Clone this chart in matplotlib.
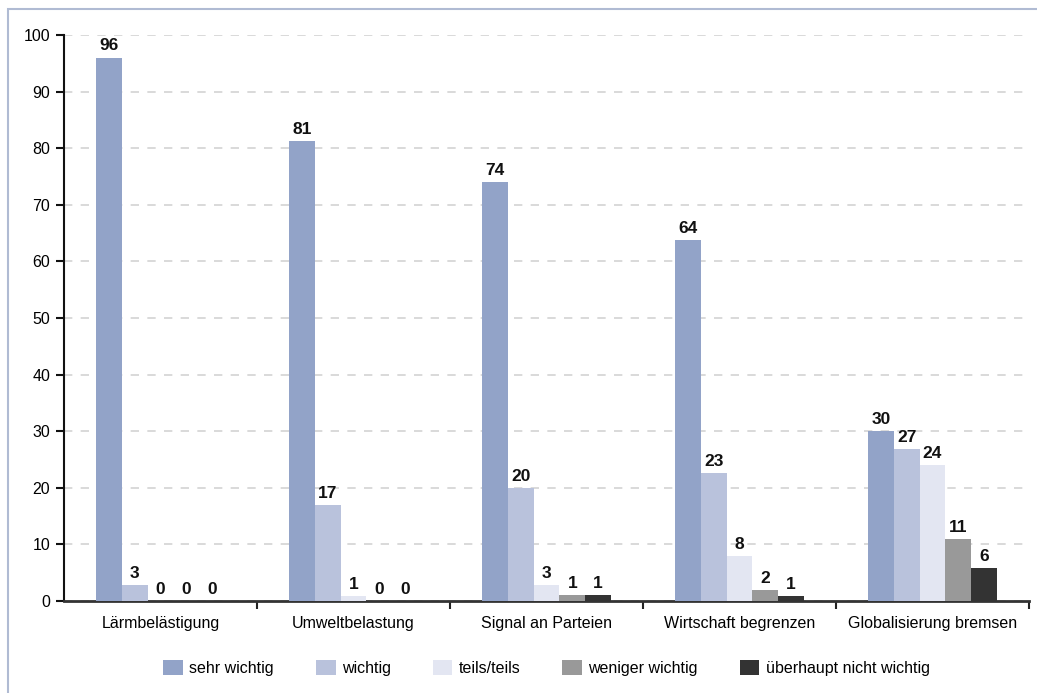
import matplotlib
matplotlib.use("Agg")
import matplotlib.pyplot as plt
import numpy as np
from matplotlib.patches import Rectangle

categories = ["Lärmbelästigung", "Umweltbelastung", "Signal an Parteien",
              "Wirtschaft begrenzen", "Globalisierung bremsen"]
series_names = ["sehr wichtig", "wichtig", "teils/teils", "weniger wichtig",
                "überhaupt nicht wichtig"]
sehr_wichtig = [96.0, 81.3, 74.0, 63.8, 30.0]
wichtig = [2.8, 17.0, 20.0, 22.6, 26.9]
teils_teils = [0.0, 0.9, 2.8, 8.0, 24.0]
weniger_wichtig = [0.0, 0.0, 1.1, 1.9, 11.0]
ueberhaupt_nicht = [0.0, 0.0, 1.1, 0.9, 5.8]
series_values = [sehr_wichtig, wichtig, teils_teils, weniger_wichtig, ueberhaupt_nicht]
colors = ["#92a3c8", "#b9c2dc", "#e3e6f2", "#999999", "#333333"]
yticks = list(range(0, 101, 10))

plt.rcParams['font.family'] = ['Liberation Sans', 'DejaVu Sans']

fig = plt.figure(figsize=(10.37, 6.93), dpi=100)
ax = fig.add_axes([64/1037, 1-601/693, (1029-64)/1037, (601-35)/693])

# outer frame
fig.patches.append(Rectangle((8/1037, -0.1), 1.2, 1 - 9/693 + 0.1, transform=fig.transFigure,
                             fill=False, edgecolor="#b0bbd3", linewidth=1.5, zorder=0))

x = np.arange(len(categories))
bw = 0.134
for i, (name, vals, c) in enumerate(zip(series_names, series_values, colors)):
    pos = x + (i - 2) * bw
    bars = ax.bar(pos, vals, width=bw, color=c, label=name, zorder=3, linewidth=0)
    for b, v in zip(bars, vals):
        ax.annotate(f"{v:.0f}", (b.get_x() + b.get_width()/2, v),
                    xytext=(0, 3), textcoords="offset points",
                    ha="center", va="bottom", fontsize=12.5, fontweight="bold",
                    color="#111111", zorder=4)

ax.set_ylim(0, 100)
ax.set_xlim(-0.5, len(categories) - 0.5)
ax.set_yticks(yticks)
ax.yaxis.grid(True, linestyle=(0, (5, 5)), color="#d3d3d3", linewidth=1.2, zorder=0)
ax.set_axisbelow(True)

ax.set_xticks(x)
ax.set_xticklabels(categories, fontsize=11.5)
ax.set_xticks(np.arange(0.5, len(categories)), minor=True)
ax.tick_params(axis="x", which="major", length=0, pad=11)
ax.tick_params(axis="x", which="minor", length=6, width=1.5, color="#222222")
ax.tick_params(axis="y", length=6, width=1.5, color="#111111", labelsize=11.5, pad=4)

for s in ["top", "right"]:
    ax.spines[s].set_visible(False)
ax.spines["left"].set_linewidth(1.5)
ax.spines["left"].set_color("#111111")
ax.spines["bottom"].set_linewidth(2)
ax.spines["bottom"].set_color("#333333")

leg = ax.legend(loc="center", bbox_to_anchor=(0.5, -0.118), ncol=5, frameon=False,
                fontsize=11.5, handlelength=1.25, handleheight=1.15, columnspacing=2.6,
                handletextpad=0.4)

fig.savefig("out.png", dpi=100)
